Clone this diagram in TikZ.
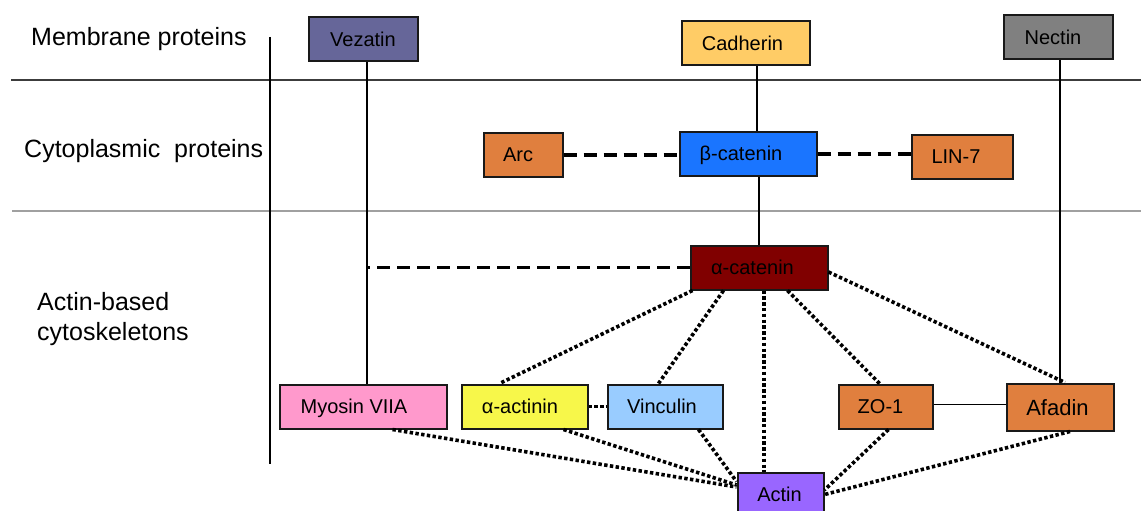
\documentclass[tikz,border=0pt]{standalone}
\usepackage{fontspec}
\setmainfont{Liberation Sans}
\usetikzlibrary{calc}
\definecolor{cvez}{HTML}{666699}
\definecolor{ccad}{HTML}{FFCC66}
\definecolor{cnec}{HTML}{808080}
\definecolor{corg}{HTML}{E07F3E}
\definecolor{cbcat}{HTML}{1A75FF}
\definecolor{cacat}{HTML}{800000}
\definecolor{cmyo}{HTML}{FF99CC}
\definecolor{caact}{HTML}{F7F74A}
\definecolor{cvin}{HTML}{99CCFF}
\definecolor{cact}{HTML}{9966FF}
\definecolor{linedark}{HTML}{3C3C3C}
\definecolor{linelight}{HTML}{A0A0A0}
\begin{document}
\begin{tikzpicture}[x=1pt,y=-1pt,
  box/.style={draw=black!90, line width=2pt, minimum height=44pt, inner sep=0pt,
    font=\fontsize{20}{24}\selectfont, text height=14.5pt, text depth=0pt},
  solidline/.style={line width=1.5pt, black},
  dashline/.style={line width=4pt, dash pattern=on 13pt off 7pt},
  dotline/.style={line width=3.6pt, dash pattern=on 3.4pt off 2.4pt},
  lbl/.style={anchor=base west, inner sep=0pt, font=\fontsize{25}{30}\selectfont}]
\useasboundingbox (0,0) rectangle (1141,511);

% layer labels
\node[lbl] (lmem) at (31,46) {Membrane proteins};
\node[lbl] (lcyt) at (24,157) {Cytoplasmic\ \ proteins};
\node[lbl] (lact1) at (37,310) {Actin-based};
\node[lbl] (lact2) at (37,340) {cytoskeletons};

% frame lines
\coordinate (h1a) at (11,80);  \coordinate (h1b) at (1141,80);
\coordinate (h2a) at (12,211); \coordinate (h2b) at (1141,211);
\coordinate (va) at (270,37);  \coordinate (vb) at (270,464);
\draw[line width=1.6pt, linedark] (h1a) -- (h1b);
\draw[line width=2pt, linelight] (h2a) -- (h2b);
\draw[line width=1.6pt, black] (va) -- (vb);

% nodes
\node[box, fill=cvez, minimum width=109pt] (vez) at (363,39.5) {Vezatin};
\node[box, fill=ccad, minimum width=128pt] (cad) at (745.5,43.5) {Cadherin\kern6pt};
\node[box, fill=cnec, minimum width=109pt] (nec) at (1058,37) {Nectin\kern10pt};
\node[box, fill=corg, minimum width=79pt] (arc) at (523,154.5) {Arc\kern10pt};
\node[box, fill=cbcat, minimum width=137pt] (bcat) at (748,153.5) {β-catenin\kern14pt};
\node[box, fill=corg, minimum width=101pt] (lin) at (962,156.5) {LIN-7\kern12pt};
\node[box, fill=cacat, minimum width=137pt] (acat) at (759,267.5) {α-catenin\kern13pt};
\node[box, fill=cmyo, minimum width=167pt] (myo) at (363,406.5) {Myosin VIIA\kern18pt};
\node[box, fill=caact, minimum width=126pt] (aact) at (524.5,406.5) {α-actinin\kern9pt};
\node[box, fill=cvin, minimum width=115pt] (vin) at (665,406.5) {Vinculin\kern6pt};
\node[box, fill=corg, minimum width=94pt] (zo) at (885.5,406.5) {ZO-1\kern10pt};
\node[box, fill=corg, minimum width=107pt, minimum height=47pt,
      font=\fontsize{22}{26}\selectfont, text height=16pt] (afa) at (1060,407) {Afadin\kern5pt};
\node[box, fill=cact, minimum width=86pt] (act) at (780.5,494.5) {Actin\kern2pt};

% helper x positions
\coordinate (vx) at (367,0);
\coordinate (cx) at (757,0);
\coordinate (ax) at (764,0);

% solid connectors
\draw[solidline] ([xshift=4pt]vez.south) -- ([xshift=4pt]myo.north);
\draw[solidline] (cad.south -| cx) -- (bcat.north -| cx);
\draw[solidline] (bcat.south -| acat.north) -- (acat.north);
\draw[solidline] (nec.south -| afa.north) -- (afa.north);
\draw[solidline] ([yshift=2pt]zo.east) -- ([yshift=2pt]zo.east -| afa.west);

% dashed connectors
\draw[dashline] (arc.east) -- (arc.east -| bcat.west);
\draw[dashline] (bcat.east) -- (bcat.east -| lin.west);
\draw[dashline, line width=3.5pt] (acat.west) -- (acat.west -| vx);

% dotted connectors
\draw[dotline] (aact.east) -- (aact.east -| vin.west);
\draw[dotline] ([xshift=3pt]acat.south west) -- ([xshift=39pt]aact.north west);
\draw[dotline] ([xshift=34pt]acat.south west) -- ([xshift=52pt]vin.north west);
\draw[dotline] (acat.south -| ax) -- (act.north -| ax);
\draw[dotline] ([xshift=98pt]acat.south west) -- ([xshift=42pt]zo.north west);
\draw[dotline] ([yshift=-4.5pt]acat.east) -- ([xshift=5pt]afa.north);
\draw[dotline] ([xshift=114pt]myo.south west) -- ([yshift=7.5pt]act.west);
\draw[dotline] ([xshift=103pt]aact.south west) -- ([yshift=9.5pt]act.west);
\draw[dotline] ([xshift=92pt]vin.south west) -- ([yshift=13pt]act.west);
\draw[dotline] ([xshift=51pt]zo.south west) -- ([yshift=4.5pt]act.east);
\draw[dotline] ([xshift=10pt]afa.south) -- (act.east);
\end{tikzpicture}
\end{document}
